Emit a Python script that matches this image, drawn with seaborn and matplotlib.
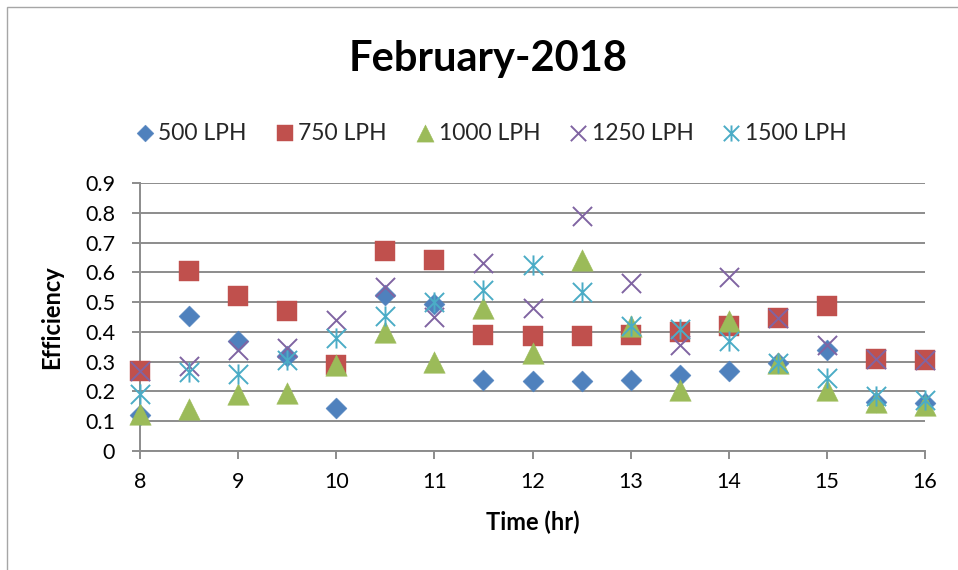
import numpy as np
import pandas as pd
import matplotlib
matplotlib.use("Agg")
import matplotlib.pyplot as plt
from matplotlib.path import Path
from matplotlib.patches import Rectangle
import seaborn as sns

# ---- data ----
time_hr = [8, 8.5, 9, 9.5, 10, 10.5, 11, 11.5, 12, 12.5, 13, 13.5, 14, 14.5, 15, 15.5, 16]
lph_500 = [0.12, 0.455, 0.37, 0.32, 0.143, 0.525, 0.495, 0.237, 0.235, 0.235, 0.24, 0.255, 0.27, 0.295, 0.34, 0.165, 0.16]
lph_750 = [0.27, 0.605, 0.52, 0.47, 0.29, 0.67, 0.64, 0.39, 0.385, 0.385, 0.39, 0.40, 0.42, 0.445, 0.487, 0.31, 0.305]
lph_1000 = [0.125, 0.14, 0.19, 0.195, 0.29, 0.40, 0.30, 0.48, 0.33, 0.64, 0.42, 0.205, 0.435, 0.295, 0.205, 0.165, 0.155]
lph_1250 = [0.27, 0.285, 0.34, 0.345, 0.44, 0.55, 0.45, 0.63, 0.48, 0.79, 0.565, 0.355, 0.585, 0.445, 0.355, 0.31, 0.305]
lph_1500 = [0.19, 0.265, 0.26, 0.305, 0.38, 0.455, 0.50, 0.54, 0.625, 0.535, 0.42, 0.41, 0.37, 0.295, 0.245, 0.185, 0.17]

series_names = ["500 LPH", "750 LPH", "1000 LPH", "1250 LPH", "1500 LPH"]
series_values = [lph_500, lph_750, lph_1000, lph_1250, lph_1500]
y_ticks = [0, 0.1, 0.2, 0.3, 0.4, 0.5, 0.6, 0.7, 0.8, 0.9]
x_ticks = [8, 9, 10, 11, 12, 13, 14, 15, 16]

# ---- style ----
sns.set_theme(style="white")
plt.rcParams["font.family"] = ["Lato", "DejaVu Sans"]

colors = ["#4F81BD", "#C0504D", "#9BBB59", "#8064A2", "#4BACC6"]
asterisk = Path(
    [(-1, -1), (1, 1), (-1, 1), (1, -1), (0, -1.05), (0, 1.05)],
    [Path.MOVETO, Path.LINETO, Path.MOVETO, Path.LINETO, Path.MOVETO, Path.LINETO],
)
markers = ["D", "s", "^", "x", asterisk]
sizes = [115, 210, 240, 190, 210]
filled = [True, True, True, False, False]

fig = plt.figure(figsize=(9.58, 5.70), dpi=100)
ax = fig.add_axes([140 / 958, 1 - 451 / 570, 785 / 958, 268 / 570])

grid_c = "#8C8C8C"
for i, (name, vals) in enumerate(zip(series_names, series_values)):
    df = pd.DataFrame({"Time (hr)": time_hr, "Efficiency": vals})
    if filled[i]:
        sns.scatterplot(data=df, x="Time (hr)", y="Efficiency", ax=ax, marker=markers[i],
                        color=colors[i], s=sizes[i], edgecolor=colors[i], linewidth=0.3,
                        label=name, zorder=3 + i, clip_on=False)
    else:
        sns.scatterplot(data=df, x="Time (hr)", y="Efficiency", ax=ax, marker=markers[i],
                        color=colors[i], s=sizes[i], edgecolor=colors[i],
                        linewidth=1.4, label=name, zorder=3 + i, clip_on=False)

ax.set_xlim(8, 16)
ax.set_ylim(0, 0.9)
ax.set_xticks(x_ticks)
ax.set_yticks(y_ticks)
ax.set_xticklabels([str(t) for t in x_ticks])
ax.set_yticklabels(["0" if t == 0 else f"{t:.1f}" for t in y_ticks])
ax.yaxis.grid(True, color=grid_c, linewidth=1.4)
ax.xaxis.grid(False)
ax.set_axisbelow(True)
for sp in ["top", "right"]:
    ax.spines[sp].set_visible(False)
for sp in ["left", "bottom"]:
    ax.spines[sp].set_color(grid_c)
    ax.spines[sp].set_linewidth(1.4)
ax.tick_params(axis="y", which="major", direction="out", length=6, width=1.4, color=grid_c,
               pad=12, labelsize=15.5, left=True, labelcolor="black")
ax.tick_params(axis="x", which="major", direction="out", length=6, width=1.4, color=grid_c,
               pad=9, labelsize=15.5, bottom=True, labelcolor="black")

ax.set_xlabel("Time (hr)", fontsize=17, fontweight="bold", color="black")
ax.set_ylabel("Efficiency", fontsize=17, fontweight="bold", color="black")
ax.xaxis.set_label_coords(0.5, -0.222)
ax.yaxis.set_label_coords(-0.098, 0.5)

handles, labels = ax.get_legend_handles_labels()
ax.get_legend().remove()
fig.legend(handles, labels, loc="center", bbox_to_anchor=(490 / 958, 1 - 133 / 570), ncol=5,
           frameon=False, fontsize=16.5, handletextpad=0.1, columnspacing=1.15, markerscale=0.8,
           handlelength=1.0)

fig.text(488 / 958, 1 - 71 / 570, "February-2018", ha="center", va="baseline",
         fontsize=30, fontweight="bold", color="black")

fig.patches.append(Rectangle((7 / 958, -0.1), 1.2, 1 - 7 / 570 + 0.1, transform=fig.transFigure,
                             fill=False, edgecolor="#A6A6A6", linewidth=1.0, zorder=0))

fig.savefig("out.png", dpi=100)
